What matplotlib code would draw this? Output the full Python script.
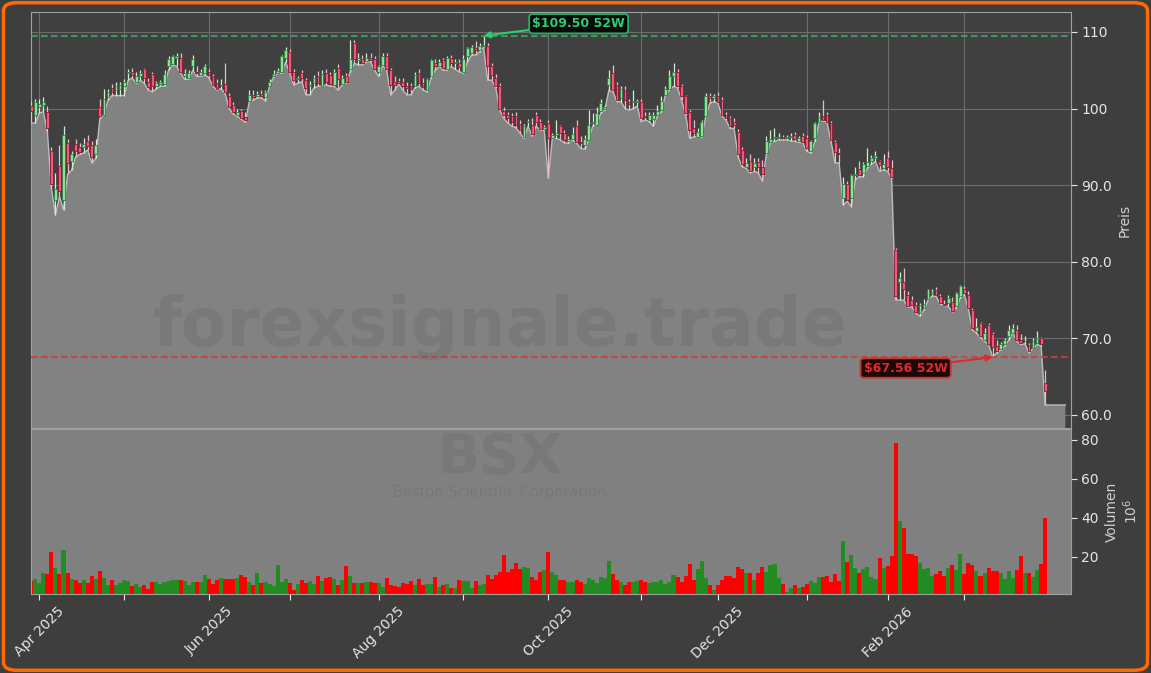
import matplotlib
matplotlib.use('Agg')
import matplotlib.pyplot as plt
from matplotlib.patches import FancyBboxPatch
from matplotlib.ticker import FuncFormatter
import numpy as np
import pandas as pd

# US market holidays in the window
holidays = ['2025-04-18', '2025-05-26', '2025-06-19', '2025-07-04', '2025-09-01',
            '2025-11-27', '2025-12-25', '2026-01-01', '2026-01-19', '2026-02-16']
first_day = '2025-03-28'
fill_pad = 5  # area keeps the last low for a few more slots

# daily OHLC, one line per month (Mar 2025 .. Mar 2026)
opens = [
    100.3, 99.2,
    100.2, 100.4, 99.5, 94.5, 88.0, 92.5, 88.0, 95.5, 93.1, 95.4, 95.0, 95.0, 95.8, 95.3, 94.1, 100.2, 99.2, 101.5, 102.7, 102.4, 102.5,
    102.9, 104.6, 104.8, 103.4, 104.3, 105.2, 103.5, 104.5, 103.0, 103.2, 103.2, 105.5, 105.8, 106.6, 106.6, 104.3, 104.0, 105.5, 104.7, 104.4, 104.6,
    104.8, 104.2, 103.3, 103.0, 103.2, 101.6, 100.4, 99.2, 99.7, 98.9, 101.0, 101.8, 101.6, 101.9, 101.5, 103.0, 104.2, 104.7, 104.8, 106.6,
    107.4, 104.8, 103.8, 104.7, 103.7, 103.0, 103.3, 104.2, 102.9, 104.6, 104.4, 103.1, 105.3, 103.2, 104.3, 105.2, 108.5, 106.3, 106.4, 106.2, 106.6, 106.4,
    104.8, 105.7, 106.8, 105.0, 103.5, 103.6, 103.5, 103.0, 102.9, 102.9, 104.7, 103.3, 102.4, 104.2, 106.0, 105.6, 106.3, 105.1, 106.6, 105.9, 106.0,
    104.8, 106.8, 107.3, 107.9, 107.7, 108.1, 108.2, 105.6, 104.0, 103.0, 99.7, 99.2, 99.0, 99.0, 98.0, 96.3, 98.2, 97.8, 99.1, 98.3, 97.3,
    98.1, 96.2, 96.5, 97.7, 96.8, 95.8, 96.0, 97.7, 95.6, 95.2, 95.9, 98.1, 97.9, 99.7, 100.0, 103.1, 104.6, 103.1, 101.4, 102.4, 100.8, 100.8, 100.9,
    100.9, 99.0, 98.5, 98.6, 99.2, 99.8, 101.8, 102.5, 104.3, 104.8, 103.0, 101.6, 99.6, 97.4, 96.3, 96.4, 99.0, 101.6, 101.4,
    101.7, 101.1, 99.2, 98.7, 98.3, 97.0, 94.6, 92.4, 93.1, 92.4, 93.0, 92.4, 94.2, 95.6, 96.1, 96.2, 96.3, 96.1, 96.3, 96.6, 95.7, 96.4,
    96.1, 94.4, 96.1, 98.3, 99.0, 99.2, 98.1, 95.6, 94.2, 88.3, 90.2, 88.3, 91.3, 92.1, 91.6, 92.5, 93.2, 93.6, 93.2, 92.2,
    93.5, 92.3, 81.5, 77.4, 77.4, 75.7, 75.0, 74.4, 73.3, 74.0, 75.1, 75.8, 76.3, 75.5, 74.5, 74.6, 74.8, 74.2, 75.5,
    76.5, 75.6, 73.7, 71.0, 72.0, 69.8, 71.8, 70.6, 69.0, 68.6, 69.2, 70.3, 70.7, 71.1, 69.8, 69.6, 69.1, 68.8, 69.4, 70.0, 64.2,
]
highs = [
    101.0, 101.2,
    101.3, 101.5, 100.3, 95.0, 91.6, 95.3, 97.7, 96.0, 94.5, 96.0, 95.5, 96.2, 96.5, 95.8, 96.0, 101.3, 102.5, 102.6, 103.2, 103.5, 103.5,
    103.8, 105.2, 105.3, 104.8, 105.0, 105.3, 104.0, 104.8, 103.6, 103.7, 105.0, 106.8, 107.0, 107.2, 107.3, 105.2, 105.0, 107.0, 105.6, 105.2, 105.8,
    105.2, 104.5, 103.8, 103.8, 105.9, 102.0, 100.8, 99.9, 100.0, 99.5, 102.4, 102.4, 102.3, 102.4, 102.4, 103.9, 105.0, 105.3, 107.0, 108.0,
    107.8, 105.2, 104.3, 105.0, 104.0, 103.6, 104.4, 104.9, 105.0, 105.1, 104.8, 105.2, 105.8, 104.4, 104.6, 109.0, 108.9, 107.2, 107.0, 107.2, 107.2, 106.8,
    105.7, 107.3, 107.2, 105.3, 104.2, 104.0, 104.0, 103.4, 103.3, 104.8, 105.2, 104.0, 104.0, 106.5, 106.5, 106.4, 106.6, 106.8, 107.0, 106.5, 106.4,
    107.0, 108.0, 108.3, 108.8, 108.5, 109.5, 108.5, 106.0, 104.5, 103.3, 100.2, 99.6, 99.4, 99.5, 98.5, 98.0, 98.6, 98.7, 99.5, 98.6, 97.9,
    98.5, 96.8, 98.5, 97.9, 97.2, 96.4, 97.6, 98.5, 96.4, 96.6, 99.8, 99.4, 100.2, 101.2, 100.5, 105.0, 105.7, 103.5, 103.0, 103.0, 101.3, 102.4, 101.3,
    101.3, 99.5, 99.5, 99.5, 100.5, 101.6, 103.0, 105.0, 105.9, 105.2, 103.2, 101.8, 99.8, 98.5, 97.5, 98.5, 102.0, 102.0, 101.9,
    102.2, 101.5, 99.6, 99.0, 98.8, 97.3, 95.0, 93.6, 94.0, 93.5, 93.6, 93.3, 96.4, 97.2, 97.4, 96.8, 96.6, 96.6, 96.8, 97.0, 96.4, 96.8,
    96.5, 95.9, 98.3, 99.5, 101.1, 99.6, 98.4, 95.9, 94.8, 91.1, 90.6, 91.5, 92.4, 93.1, 93.0, 94.8, 93.9, 94.4, 93.3, 94.0,
    94.4, 93.3, 81.8, 78.7, 79.2, 76.2, 75.5, 74.8, 74.6, 75.1, 76.5, 76.5, 76.7, 75.8, 75.0, 75.6, 75.4, 76.0, 77.0,
    76.9, 76.2, 73.9, 72.7, 72.2, 71.4, 72.0, 70.8, 69.8, 69.5, 70.1, 71.8, 71.9, 71.8, 70.6, 70.3, 69.4, 70.0, 71.0, 70.2, 65.9,
]
lows = [
    98.1, 98.1,
    99.4, 99.6, 97.0, 89.6, 86.1, 88.5, 86.8, 91.4, 92.0, 93.7, 94.0, 94.2, 94.6, 92.9, 93.5, 98.7, 99.2, 101.1, 101.7, 101.7, 101.7,
    101.7, 103.7, 104.0, 103.3, 103.7, 103.3, 102.4, 102.2, 102.6, 102.9, 102.9, 105.0, 105.7, 105.5, 104.6, 103.8, 103.8, 105.0, 104.2, 104.2, 104.4,
    104.0, 102.9, 102.4, 102.6, 102.0, 100.0, 99.3, 99.0, 98.6, 98.2, 100.9, 101.1, 101.4, 101.4, 101.0, 102.9, 104.1, 104.6, 104.6, 106.1,
    104.6, 103.1, 103.3, 103.5, 101.8, 101.8, 102.7, 102.9, 102.9, 103.1, 102.9, 102.9, 102.4, 103.1, 103.3, 104.8, 105.9, 105.7, 105.7, 106.1, 106.1, 105.0,
    104.2, 105.6, 105.0, 101.8, 102.4, 103.2, 102.4, 101.8, 101.8, 102.7, 102.9, 102.4, 102.2, 104.0, 105.0, 105.5, 105.0, 105.0, 105.5, 105.1, 104.8,
    104.6, 106.1, 107.0, 107.0, 107.4, 108.0, 103.7, 103.7, 102.7, 99.8, 98.7, 98.1, 97.7, 97.5, 96.8, 96.1, 97.7, 96.4, 97.7, 97.2, 97.2,
    90.9, 96.1, 96.1, 95.9, 95.5, 95.5, 95.9, 95.5, 94.8, 94.7, 95.9, 97.7, 97.9, 99.4, 99.8, 102.4, 102.2, 100.9, 100.9, 100.0, 99.8, 100.0, 100.3,
    98.3, 98.5, 98.3, 97.7, 99.0, 99.6, 101.8, 102.4, 102.9, 102.7, 101.1, 99.2, 96.1, 96.3, 96.3, 96.3, 99.0, 100.7, 100.9,
    100.7, 99.0, 98.5, 97.4, 97.4, 93.7, 92.4, 92.2, 91.6, 91.8, 91.6, 90.5, 94.0, 95.5, 95.7, 95.9, 95.9, 95.9, 95.8, 95.7, 95.6, 95.5,
    94.4, 94.2, 95.7, 98.2, 98.4, 98.2, 95.7, 92.9, 92.9, 87.4, 87.9, 87.2, 90.7, 91.1, 91.1, 92.2, 92.7, 93.1, 91.8, 92.0,
    91.8, 90.9, 75.0, 75.0, 75.0, 74.1, 74.1, 73.3, 72.9, 73.7, 75.0, 75.5, 75.5, 74.5, 74.3, 74.2, 73.5, 74.0, 75.3,
    75.7, 73.8, 71.1, 70.7, 70.1, 69.6, 69.2, 67.56, 68.1, 68.5, 69.0, 69.8, 70.7, 69.6, 69.2, 69.3, 68.1, 68.7, 69.2, 69.0, 61.3,
]
closes = [
    99.7, 100.8,
    100.6, 100.9, 97.5, 90.2, 89.5, 89.2, 96.5, 92.9, 94.0, 94.4, 94.3, 95.4, 95.1, 93.7, 95.3, 99.0, 101.2, 102.1, 102.2, 103.0, 103.1,
    103.4, 104.7, 104.4, 104.3, 104.6, 104.0, 102.8, 103.0, 103.3, 103.4, 104.5, 106.4, 106.9, 106.8, 104.8, 104.7, 104.6, 106.4, 104.6, 104.8, 105.5,
    104.4, 103.1, 102.5, 103.1, 102.2, 100.2, 99.5, 99.6, 98.7, 98.5, 101.8, 101.5, 101.9, 101.7, 102.2, 103.4, 104.5, 104.9, 106.8, 107.6,
    104.8, 103.7, 104.0, 104.0, 102.7, 103.1, 104.0, 103.3, 104.5, 103.5, 103.2, 104.8, 103.8, 104.0, 103.5, 106.5, 106.4, 106.6, 105.9, 106.6, 106.3, 105.1,
    105.5, 106.9, 105.1, 103.1, 103.1, 103.3, 102.9, 102.7, 102.6, 104.4, 103.3, 102.8, 103.8, 106.3, 105.5, 106.1, 105.3, 106.6, 105.9, 106.0, 105.4,
    106.5, 107.9, 108.0, 107.6, 108.1, 108.3, 105.5, 104.4, 102.9, 100.0, 99.2, 98.7, 98.3, 97.9, 97.2, 97.7, 98.3, 96.7, 98.3, 97.3, 97.6,
    96.1, 96.5, 96.8, 96.8, 95.9, 96.0, 96.7, 95.6, 95.5, 96.0, 97.9, 98.3, 99.4, 100.7, 100.2, 104.0, 102.4, 101.1, 102.5, 101.1, 100.6, 100.9, 101.0,
    98.7, 98.9, 99.2, 99.2, 99.7, 101.0, 102.5, 104.2, 104.8, 102.9, 101.6, 99.4, 97.2, 96.8, 97.0, 98.3, 101.6, 101.4, 101.7,
    100.8, 99.2, 98.7, 97.7, 97.8, 94.0, 92.7, 92.9, 91.8, 92.9, 92.4, 91.5, 95.8, 96.0, 96.2, 96.3, 96.1, 96.3, 96.4, 96.0, 96.1, 95.6,
    94.8, 95.7, 98.1, 98.9, 98.5, 98.3, 95.9, 94.3, 94.1, 90.2, 88.1, 91.3, 91.5, 91.3, 92.7, 93.0, 93.5, 93.8, 92.6, 92.8,
    92.4, 91.0, 75.5, 77.9, 76.4, 74.2, 74.3, 73.5, 74.3, 74.5, 76.4, 76.0, 75.7, 74.6, 74.4, 75.3, 73.6, 75.9, 76.9,
    75.9, 74.0, 71.4, 71.5, 70.3, 70.7, 69.3, 68.9, 68.4, 69.2, 69.8, 71.1, 71.4, 69.8, 69.4, 69.7, 68.3, 69.6, 70.0, 69.2, 63.1,
]
# volume in millions
volumes = [
    7.7, 8.7,
    6.5, 12.0, 11.3, 22.7, 14.5, 11.3, 23.6, 11.8, 8.7, 8.2, 6.7, 8.2, 6.7, 10.3, 8.7, 12.8, 9.2, 5.6, 8.2, 5.8, 6.8,
    8.2, 7.7, 5.3, 6.2, 4.8, 5.8, 3.6, 7.2, 7.2, 6.2, 7.2, 7.7, 8.2, 8.2, 8.0, 7.7, 5.6, 7.2, 7.2, 7.2, 10.8,
    8.9, 6.3, 8.0, 9.2, 8.7, 8.7, 8.7, 9.2, 10.8, 9.7, 7.2, 5.6, 11.8, 6.7, 7.2, 6.3, 5.3, 15.9, 7.2, 8.7,
    6.7, 3.1, 6.2, 8.2, 6.7, 7.7, 6.2, 10.3, 7.7, 9.2, 9.7, 8.7, 5.6, 8.2, 15.4, 10.3, 6.7, 6.7, 6.7, 7.2, 7.2, 6.7,
    6.7, 4.6, 9.1, 5.6, 5.1, 4.8, 6.5, 6.2, 7.5, 5.5, 8.6, 5.6, 6.2, 6.2, 9.6, 4.4, 5.5, 6.2, 3.9, 3.9, 8.2,
    7.9, 7.5, 3.9, 7.5, 5.5, 6.0, 10.8, 8.9, 10.8, 12.5, 21.0, 12.5, 13.7, 16.8, 13.7, 14.7, 14.2, 9.6, 8.2, 12.5, 13.3,
    22.4, 12.5, 10.8, 8.2, 8.2, 7.2, 7.2, 8.2, 7.2, 6.2, 9.1, 8.2, 6.5, 9.6, 9.1, 17.9, 11.3, 8.2, 7.2, 5.6, 7.2, 7.2, 7.5,
    8.2, 7.3, 6.5, 7.2, 7.2, 8.2, 6.2, 7.2, 10.8, 9.6, 7.2, 10.3, 16.4, 8.2, 13.8, 17.9, 9.1, 5.5, 3.1,
    5.5, 8.2, 10.3, 10.3, 9.0, 14.9, 14.0, 11.9, 11.6, 8.2, 11.6, 15.0, 12.5, 15.9, 16.4, 9.2, 6.2, 2.2, 3.9, 5.8, 4.3, 4.8,
    6.2, 7.7, 6.8, 9.9, 9.9, 10.4, 7.3, 11.5, 7.7, 28.4, 17.4, 21.0, 14.4, 11.8, 14.0, 14.9, 9.7, 8.7, 19.7, 14.4,
    15.4, 20.7, 78.6, 38.5, 35.0, 21.5, 21.5, 20.7, 16.9, 14.0, 14.4, 10.3, 11.3, 13.0, 10.3, 14.5, 16.1, 13.3, 21.5,
    11.3, 16.9, 15.9, 12.8, 10.4, 11.8, 14.4, 12.8, 12.8, 11.8, 8.9, 12.8, 9.2, 13.3, 20.5, 11.6, 11.8, 9.7, 13.3, 16.4, 40.2,
]

high_52w, high_52w_date = 109.50, '2025-09-09'
low_52w, low_52w_date = 67.56, '2026-03-11'
ticker = 'BSX'
company = 'Boston Scientific Corporation'
watermark = 'forexsignale.trade'
price_ticks = [60, 70, 80, 90, 100, 110]
vol_ticks = [20, 40, 60, 80]

o = np.array(opens); h = np.array(highs); l = np.array(lows); c = np.array(closes)
vol = np.array(volumes)
dates = pd.bdate_range(first_day, periods=len(c), freq='C', holidays=holidays)
x = np.arange(len(c))          # one slot per trading day
up = c >= o

# first trading day of each month -> tick
month_key = dates.to_period('M')
tick_pos = [i for i in range(len(dates)) if i == 0 or month_key[i] != month_key[i - 1]][1:]
tick_lab = [dates[i].strftime('%b %Y') if dates[i].month % 2 == 0 else '' for i in tick_pos]

BG = '#3e3e3e'
fig = plt.figure(figsize=(11.51, 6.73), dpi=100, facecolor=BG)
ax = fig.add_axes([31/1151, 1-428/673, 1040/1151, 416/673])
axv = fig.add_axes([31/1151, 1-594/673, 1040/1151, 165/673], sharex=ax)
ax.set_facecolor('#404040')
axv.set_facecolor('#808080')

# area under the low line
fx = np.append(x, x[-1] + fill_pad)
fy = np.append(l, l[-1])
ax.fill_between(fx, fy, 0, color='#828282', zorder=1, lw=0)
ax.plot(fx, fy, color='#bdbdbd', lw=1, zorder=2)

# candles
ax.vlines(x, l, h, colors=np.where(up, '#d4ead4', '#ecbcc6'), lw=0.9, zorder=3)
body = np.maximum(np.abs(c - o), 0.12)
ax.bar(x, body, bottom=np.minimum(o, c), width=0.7,
       color=np.where(up, '#8fe08f', '#f0587a'),
       edgecolor=np.where(up, '#2e7d46', '#8a1a32'), lw=0.6, zorder=4)

# 52W lines + labels
i_hi = dates.get_loc(pd.Timestamp(high_52w_date))
i_lo = dates.get_loc(pd.Timestamp(low_52w_date))
ax.axhline(high_52w, color='#3aa860', ls=(0, (3.2, 1.6)), lw=1.5, alpha=0.85, zorder=5)
ax.axhline(low_52w, color='#d63a3a', ls=(0, (3.2, 1.6)), lw=1.5, alpha=0.85, zorder=5)
ax.annotate(f'${high_52w:.2f} 52W', xy=(i_hi, high_52w),
            xytext=(95, 12), textcoords='offset pixels', ha='center', va='center',
            color='#2ecc71', fontsize=9, fontweight='bold', zorder=8,
            bbox=dict(boxstyle='round,pad=0.25', fc='#0a0a0a', ec='#27ae60', lw=1.3),
            arrowprops=dict(arrowstyle='-|>', color='#2ecc71', lw=1.5, mutation_scale=9,
                            shrinkA=0, shrinkB=0))
ax.annotate(f'${low_52w:.2f} 52W', xy=(i_lo, low_52w),
            xytext=(-87, -11), textcoords='offset pixels', ha='center', va='center',
            color='#e02a2a', fontsize=9, fontweight='bold', zorder=8,
            bbox=dict(boxstyle='round,pad=0.25', fc='#1c0808', ec='#c0392b', lw=1.3),
            arrowprops=dict(arrowstyle='-|>', color='#e02a2a', lw=1.5, mutation_scale=9,
                            shrinkA=0, shrinkB=0))

# volume bars
axv.bar(x, vol, width=1.0, color=np.where(up, '#228b22', '#ff0000'), lw=0, zorder=2)

# axes styling
ax.set_xlim(-0.05, 257.4)
ax.set_ylim(58.3, 112.6)
axv.set_ylim(1.0, 85.6)
for a in (ax, axv):
    a.yaxis.tick_right()
    a.yaxis.set_label_position('right')
    for s in a.spines.values():
        s.set_color('#a0a0a0')
    a.tick_params(colors='#e6e6e6', labelsize=10, length=4)
ax.set_yticks(price_ticks)
ax.yaxis.set_major_formatter(FuncFormatter(lambda v, p: f'{v:.0f}' if v >= 100 else f'{v:.1f}'))
axv.set_yticks(vol_ticks)
ax.set_ylabel('Preis', color='#cfcfcf', fontsize=10)
axv.set_ylabel('Volumen\n$10^6$', color='#cfcfcf', fontsize=10)

axv.set_xticks(tick_pos)
axv.set_xticklabels(tick_lab, rotation=45)
ax.tick_params(axis='x', bottom=False, labelbottom=False)
ax.grid(True, color='#6c6c6c', lw=0.8, zorder=0)
ax.set_axisbelow(True)

# watermark
fig.text(0.4344, 0.514, watermark, fontsize=48, fontweight='bold', color='#555555',
         alpha=0.18, ha='center', va='center', zorder=0)
fig.text(0.4344, 0.320, ticker, fontsize=40, fontweight='bold', color='#555555',
         alpha=0.18, ha='center', va='center', zorder=0)
fig.text(0.4344, 0.2685, company, fontsize=10.5, color='#555555',
         alpha=0.18, ha='center', va='center', zorder=0)

# orange frame
fig.patches.append(FancyBboxPatch((0.003, 0.004), 0.994, 0.992,
                                  boxstyle='round,pad=0,rounding_size=0.012',
                                  transform=fig.transFigure, fc='none', ec='#ff6a00', lw=2.5))

fig.savefig('out.png', dpi=100, facecolor=fig.get_facecolor())
